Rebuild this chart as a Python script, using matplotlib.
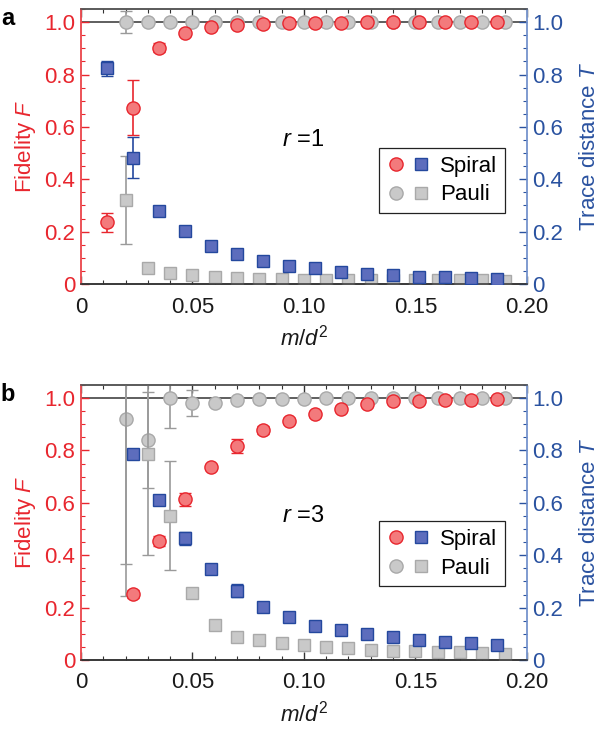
import matplotlib
matplotlib.use("Agg")
import matplotlib.pyplot as plt
from matplotlib.lines import Line2D
from matplotlib.legend_handler import HandlerTuple
from matplotlib.ticker import MultipleLocator, FixedLocator, FixedFormatter

plt.rcParams['font.family'] = ['Liberation Sans', 'DejaVu Sans']
plt.rcParams['mathtext.fontset'] = 'custom'
plt.rcParams['mathtext.rm'] = 'Liberation Sans'
plt.rcParams['mathtext.it'] = 'Liberation Sans:italic'

# colours
RED_FILL, RED_EDGE = '#F37A7C', '#E8262E'
BLUE_FILL, BLUE_EDGE = '#5D6DBD', '#24489E'
GRAY_FILL, GRAY_EDGE, GRAY_BAR = '#C9C9C9', '#A9A9A9', '#9A9A9A'
RED_AX, BLUE_AX = '#E8262E', '#2A52A0'

# ---- panel a : r = 1 ----
spiral_x_a = [0.0117, 0.0233, 0.035, 0.0467, 0.0583, 0.07, 0.0817, 0.0933,
              0.105, 0.1167, 0.1283, 0.14, 0.1517, 0.1633, 0.175, 0.1867]
spiral_F_a = [0.235, 0.674, 0.903, 0.957, 0.980, 0.989, 0.992, 0.995,
              0.997, 0.998, 0.999, 1.0, 1.0, 1.0, 1.0, 1.0]
spiral_Ferr_a = [0.038, 0.105, 0.018, 0.006, 0.004, 0.004, 0.003, 0.003,
                 0.003, 0.002, 0.002, 0.002, 0.002, 0.002, 0.002, 0.002]
spiral_T_a = [0.823, 0.483, 0.280, 0.202, 0.145, 0.113, 0.089, 0.069,
              0.060, 0.044, 0.038, 0.033, 0.028, 0.026, 0.022, 0.020]
spiral_Terr_a = [0.027, 0.077, 0.006, 0.005, 0.004, 0.004, 0.003, 0.003,
                 0.003, 0.003, 0.002, 0.002, 0.002, 0.002, 0.002, 0.002]

pauli_x = [0.02, 0.03, 0.04, 0.05, 0.06, 0.07, 0.08, 0.09, 0.10,
           0.11, 0.12, 0.13, 0.14, 0.15, 0.16, 0.17, 0.18, 0.19]
pauli_F_a = [1.0] * 18
pauli_Ferr_a = [0.042, 0.002, 0.002, 0.002, 0.001, 0.001, 0.001, 0.001, 0.001,
                0.001, 0.001, 0.001, 0.001, 0.001, 0.001, 0.001, 0.001, 0.001]
pauli_T_a = [0.320, 0.062, 0.043, 0.033, 0.028, 0.024, 0.020, 0.018, 0.017,
             0.016, 0.016, 0.015, 0.015, 0.015, 0.014, 0.014, 0.014, 0.013]
pauli_Terr_a = [0.167, 0.004, 0.003, 0.003, 0.002, 0.002, 0.002, 0.002, 0.002,
                0.002, 0.002, 0.002, 0.002, 0.002, 0.002, 0.002, 0.002, 0.002]

# ---- panel b : r = 3 ----
spiral_x_b = spiral_x_a[1:]
spiral_F_b = [0.252, 0.454, 0.613, 0.738, 0.817, 0.878, 0.913, 0.938,
              0.957, 0.978, 0.988, 0.990, 0.993, 0.994, 0.997]
spiral_Ferr_b = [0.016, 0.020, 0.024, 0.008, 0.025, 0.016, 0.010, 0.010,
                 0.008, 0.005, 0.004, 0.004, 0.003, 0.003, 0.003]
spiral_T_b = [0.786, 0.611, 0.464, 0.346, 0.265, 0.204, 0.165, 0.131,
              0.116, 0.101, 0.087, 0.077, 0.068, 0.064, 0.058]
spiral_Terr_b = [0.010, 0.010, 0.025, 0.014, 0.025, 0.008, 0.006, 0.005,
                 0.005, 0.004, 0.004, 0.003, 0.003, 0.003, 0.003]

pauli_F_b = [0.920, 0.840, 1.0, 0.980, 0.983, 0.992, 0.996, 0.997, 0.998,
             0.999, 1.0, 1.0, 1.0, 1.0, 1.0, 1.0, 1.0, 1.0]
pauli_Ferr_b = [0.676, 0.183, 0.113, 0.050, 0.008, 0.004, 0.003, 0.003, 0.002,
                0.002, 0.002, 0.002, 0.002, 0.002, 0.002, 0.002, 0.002, 0.002]
pauli_T_b = [1.100, 0.785, 0.551, 0.257, 0.134, 0.089, 0.076, 0.063, 0.057,
             0.051, 0.045, 0.038, 0.036, 0.033, 0.030, 0.029, 0.027, 0.022]
pauli_Terr_b = [0.735, 0.383, 0.207, 0.010, 0.006, 0.004, 0.003, 0.003, 0.003,
                0.003, 0.002, 0.002, 0.002, 0.002, 0.002, 0.002, 0.002, 0.002]

x_ticks = [0, 0.05, 0.10, 0.15, 0.20]
x_ticklabels = ['0', '0.05', '0.10', '0.15', '0.20']
y_ticks = [0, 0.2, 0.4, 0.6, 0.8, 1.0]
y_ticklabels = ['0', '0.2', '0.4', '0.6', '0.8', '1.0']

FS = 16
CIRC_MS = 9.5
SQ_MS = 8.6


def errpts(ax, x, y, err, marker, fill, edge, barc, ms, z):
    ax.errorbar(x, y, yerr=err, fmt=marker, ms=ms, mfc=fill, mec=edge, mew=1.0,
                ecolor=barc, elinewidth=1.2, capsize=4, capthick=1.2, zorder=z)


def panel(rect, letter, rlabel, leg_y,
          sx, sF, sFe, sT, sTe, pF, pFe, pT, pTe):
    ax = fig.add_axes(rect)
    ax2 = ax.twinx()
    for a in (ax, ax2):
        a.set_xlim(0, 0.2)
        a.set_ylim(0, 1.05)

    ax.axhline(1.0, color='#333333', lw=1.1, zorder=1)

    # fidelity (circles) on the left axis
    errpts(ax, pauli_x, pF, pFe, 'o', GRAY_FILL, GRAY_EDGE, GRAY_BAR, CIRC_MS, 2)
    errpts(ax, sx, sF, sFe, 'o', RED_FILL, RED_EDGE, RED_EDGE, CIRC_MS, 3)
    # trace distance (squares) on the right axis
    errpts(ax2, pauli_x, pT, pTe, 's', GRAY_FILL, GRAY_EDGE, GRAY_BAR, SQ_MS, 2)
    errpts(ax2, sx, sT, sTe, 's', BLUE_FILL, BLUE_EDGE, BLUE_EDGE, SQ_MS, 3)

    ax.xaxis.set_major_locator(FixedLocator(x_ticks))
    ax.xaxis.set_major_formatter(FixedFormatter(x_ticklabels))
    ax.xaxis.set_minor_locator(MultipleLocator(0.01))
    for a in (ax, ax2):
        a.yaxis.set_major_locator(FixedLocator(y_ticks))
        a.yaxis.set_major_formatter(FixedFormatter(y_ticklabels))
        a.yaxis.set_minor_locator(MultipleLocator(0.05))

    ax.tick_params(axis='x', which='both', direction='in', top=True,
                   colors='#333333', labelcolor='#1a1a1a', labelsize=FS, pad=9)
    ax.tick_params(axis='x', which='major', length=6, width=1)
    ax.tick_params(axis='x', which='minor', length=3, width=0.8)
    ax.tick_params(axis='y', which='both', direction='in', colors=RED_AX,
                   labelsize=FS, pad=4)
    ax.tick_params(axis='y', which='major', length=6, width=1)
    ax.tick_params(axis='y', which='minor', length=3, width=0.8)
    ax2.tick_params(axis='y', which='both', direction='in', colors=BLUE_AX,
                    labelsize=FS, pad=4)
    ax2.tick_params(axis='y', which='major', length=6, width=1)
    ax2.tick_params(axis='y', which='minor', length=3, width=0.8)

    for a in (ax, ax2):
        a.spines['top'].set_color('#555555')
        a.spines['bottom'].set_color('#333333')
        a.spines['left'].set_color('#EC4D52')
        a.spines['right'].set_color('#7B98CF')
        for s in a.spines.values():
            s.set_linewidth(1.1)

    ax.set_ylabel('Fidelity $F$', color=RED_AX, fontsize=FS, labelpad=5)
    ax2.set_ylabel('Trace distance $T$', color=BLUE_AX, fontsize=FS,
                   labelpad=11, rotation=90)
    ax.set_xlabel('$m/d^2$', fontsize=FS, color='#1a1a1a', labelpad=5)

    ax.text(0.09, 0.55, rlabel, fontsize=FS + 1, ha='left', va='center')
    ax.text(-0.18, 0.965, letter, transform=ax.transAxes, fontsize=FS + 1,
            fontweight='bold', va='center', ha='left')

    handles = [
        (Line2D([], [], ls='', marker='o', ms=CIRC_MS, mfc=RED_FILL, mec=RED_EDGE),
         Line2D([], [], ls='', marker='s', ms=SQ_MS, mfc=BLUE_FILL, mec=BLUE_EDGE)),
        (Line2D([], [], ls='', marker='o', ms=CIRC_MS, mfc=GRAY_FILL, mec=GRAY_EDGE),
         Line2D([], [], ls='', marker='s', ms=SQ_MS, mfc=GRAY_FILL, mec=GRAY_EDGE)),
    ]
    leg = ax2.legend(handles, ['Spiral', 'Pauli'],
                     handler_map={tuple: HandlerTuple(ndivide=None, pad=0.25)},
                     loc='upper right', bbox_to_anchor=(0.951, leg_y),
                     borderaxespad=0, fontsize=FS, frameon=True, fancybox=False,
                     framealpha=1, edgecolor='#222222', handlelength=2.0,
                     handletextpad=0.4, borderpad=0.35, labelspacing=0.35)
    leg.get_frame().set_linewidth(0.9)
    return ax


fig = plt.figure(figsize=(6, 7.36), dpi=100)

panel([0.135, 0.6141, 0.743, 0.3736], 'a', '$r$ =1', 0.495,
      spiral_x_a, spiral_F_a, spiral_Ferr_a, spiral_T_a, spiral_Terr_a,
      pauli_F_a, pauli_Ferr_a, pauli_T_a, pauli_Terr_a)
panel([0.135, 0.1033, 0.743, 0.3736], 'b', '$r$ =3', 0.505,
      spiral_x_b, spiral_F_b, spiral_Ferr_b, spiral_T_b, spiral_Terr_b,
      pauli_F_b, pauli_Ferr_b, pauli_T_b, pauli_Terr_b)

fig.savefig('out.png', dpi=100)
